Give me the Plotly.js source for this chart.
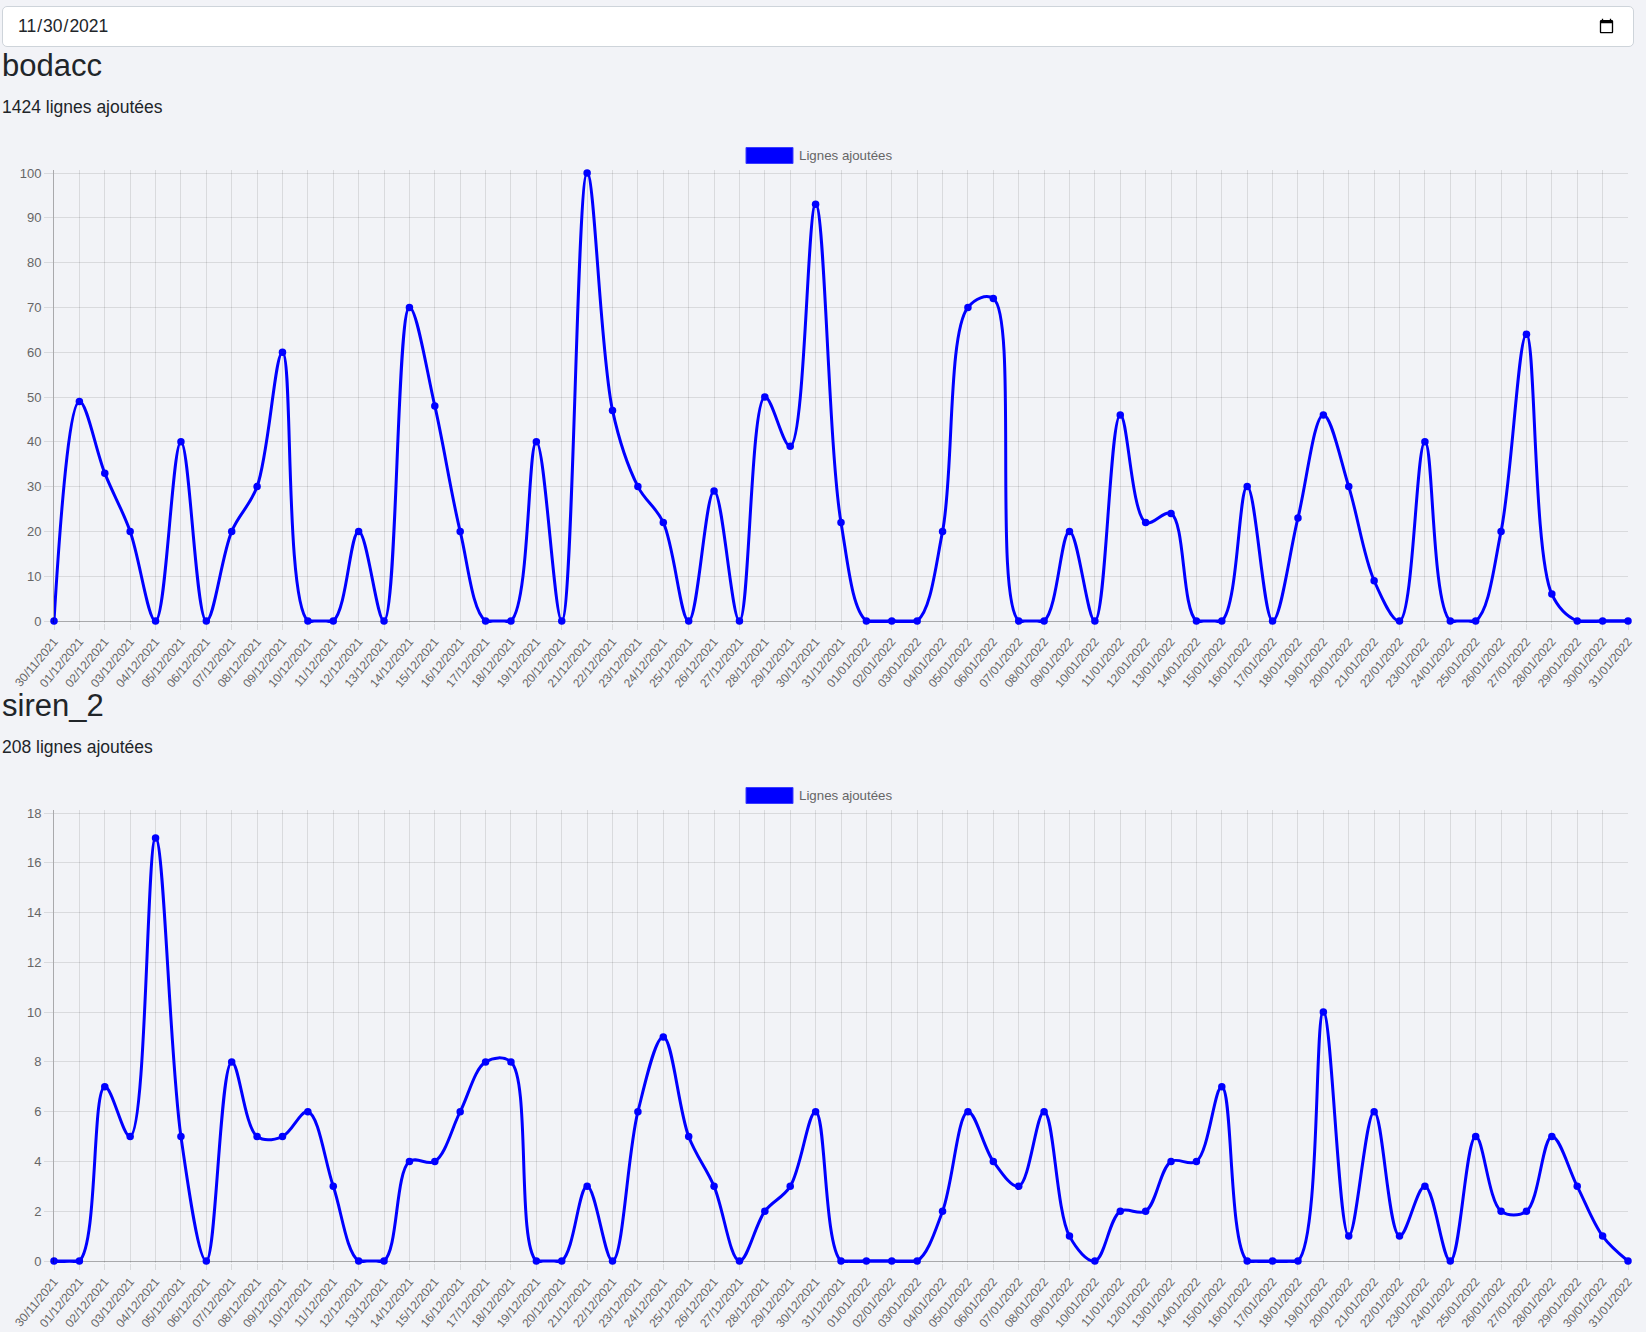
<!DOCTYPE html>
<html>
<head>
<meta charset="utf-8">
<script src="https://cdn.plot.ly/plotly-3.0.1.min.js"></script>
<style>
  html, body { margin:0; padding:0; background:rgb(242,243,247); overflow:hidden;
    font-family:"Liberation Sans", Arial, sans-serif; color:#212529; }
  .date { position:absolute; left:2px; top:6px; width:1632px; height:41px; box-sizing:border-box;
    border:1px solid #ced4da; border-radius:5px; background:#fff; padding:0 16px 0 14px;
    font-family:"Liberation Sans", Arial, sans-serif; font-size:17.5px; color:#212529; }
  .h { position:absolute; left:2px; font-size:31px; line-height:1; margin:0; font-weight:normal; white-space:nowrap; }
  .p { position:absolute; left:2px; font-size:17.5px; line-height:1; margin:0; white-space:nowrap; }
  .chart { position:absolute; left:0; width:1646px; }
</style>
</head>
<body>
<input class="date" type="date" value="2021-11-30">
<div class="h" id="t1" style="top:50px">bodacc</div>
<div class="p" id="s1" style="top:98.5px"></div>
<div class="chart" id="c1" style="top:130px;height:570px"></div>
<div class="h" id="t2" style="top:690px">siren_2</div>
<div class="p" id="s2" style="top:738.5px"></div>
<div class="chart" id="c2" style="top:770px;height:562px"></div>
<script>
const dates = [
  "30/11/2021","01/12/2021","02/12/2021","03/12/2021","04/12/2021","05/12/2021","06/12/2021","07/12/2021",
  "08/12/2021","09/12/2021","10/12/2021","11/12/2021","12/12/2021","13/12/2021","14/12/2021","15/12/2021",
  "16/12/2021","17/12/2021","18/12/2021","19/12/2021","20/12/2021","21/12/2021","22/12/2021","23/12/2021",
  "24/12/2021","25/12/2021","26/12/2021","27/12/2021","28/12/2021","29/12/2021","30/12/2021","31/12/2021",
  "01/01/2022","02/01/2022","03/01/2022","04/01/2022","05/01/2022","06/01/2022","07/01/2022","08/01/2022",
  "09/01/2022","10/01/2022","11/01/2022","12/01/2022","13/01/2022","14/01/2022","15/01/2022","16/01/2022",
  "17/01/2022","18/01/2022","19/01/2022","20/01/2022","21/01/2022","22/01/2022","23/01/2022","24/01/2022",
  "25/01/2022","26/01/2022","27/01/2022","28/01/2022","29/01/2022","30/01/2022","31/01/2022"
];
const bodaccValues = [
  0,49,33,20,0,40,0,20,30,60,0,0,20,0,70,48,20,0,0,40,0,100,47,30,22,0,29,0,50,39,93,22,
  0,0,0,20,70,72,0,0,20,0,46,22,24,0,0,30,0,23,46,30,9,0,40,0,0,20,64,6,0,0,0
];
const siren2Values = [
  0,0,7,5,17,5,0,8,5,5,6,3,0,0,4,4,6,8,8,0,0,3,0,6,9,5,3,0,2,3,6,0,
  0,0,0,2,6,4,3,6,1,0,2,2,4,4,7,0,0,0,10,1,6,1,3,0,5,2,2,5,3,1,0
];
const seriesName = "Lignes ajoutées";
const sections = [
  {title:"bodacc", values:bodaccValues, yMax:100, dTick:10, div:"c1", sub:"s1"},
  {title:"siren_2", values:siren2Values, yMax:18, dTick:2, div:"c2", sub:"s2"}
];

// plot geometry (pixels): value area 448px tall, small padding so the line is clipped like Chart.js
const ML = 54, MR = 18, PADT = 3, PADB = 2, VH = 448;
const MT = 43 - PADT, PH = VH + PADT + PADB;
const PW = 1646 - ML - MR;
function px2paperX(px){ return (px - ML) / PW; }
function px2paperY(py){ return 1 + (MT - py) / PH; }

sections.forEach(s => {
  const total = s.values.reduce((a,b)=>a+b,0);
  document.getElementById(s.sub).textContent = total + " lignes ajoutées";
  const h = document.getElementById(s.div).offsetHeight;
  const main = {
    type:"scatter", mode:"lines+markers", x:dates, y:s.values, name:seriesName,
    line:{color:"#0000ff", width:3, shape:"spline", smoothing:1},
    marker:{color:"#0000ff", size:7.5}, cliponaxis:false, showlegend:false, hoverinfo:"x+y"
  };
  // straight segments where consecutive values sit on the baseline (Chart.js caps curves at the chart area)
  const baseRuns = {
    type:"scatter", mode:"lines", x:dates, y:s.values.map(v => v === 0 ? v : null),
    connectgaps:false, line:{color:"#0000ff", width:3, shape:"linear"},
    showlegend:false, hoverinfo:"skip"
  };
  const yTickFont = {family:"Liberation Sans, Arial, sans-serif", size:13, color:"#666"};
  const xTickFont = {family:"Liberation Sans, Arial, sans-serif", size:12, color:"#666"};
  const layout = {
    width:1646, height:h,
    margin:{l:ML, r:MR, t:MT, b:h - MT - PH, pad:0},
    paper_bgcolor:"rgba(0,0,0,0)", plot_bgcolor:"rgba(0,0,0,0)",
    showlegend:false,
    xaxis:{type:"category", range:[0, dates.length-1], automargin:false,
      showgrid:true, gridcolor:"rgba(0,0,0,0.1)", gridwidth:1,
      showline:false,
      ticks:"outside", ticklen:6, tickcolor:"rgba(0,0,0,0.1)", tickwidth:1,
      tickangle:-50, tickfont:xTickFont, zeroline:false, fixedrange:true},
    yaxis:{range:[-s.yMax * PADB / VH, s.yMax + s.yMax * PADT / VH], dtick:s.dTick, tick0:0, automargin:false,
      showgrid:true, gridcolor:"rgba(0,0,0,0.1)", gridwidth:1,
      showline:true, linecolor:"rgba(0,0,0,0.3)", linewidth:1,
      ticks:"outside", ticklen:9, tickcolor:"rgba(0,0,0,0.1)", tickwidth:1,
      tickfont:yTickFont, zeroline:true, zerolinecolor:"rgba(0,0,0,0.3)", zerolinewidth:1,
      fixedrange:true},
    shapes:[
      {type:"rect", xref:"paper", yref:"paper",
       x0:px2paperX(746), x1:px2paperX(793), y0:px2paperY(33.5), y1:px2paperY(17.5),
       fillcolor:"#0000ff", line:{color:"rgba(60,60,255,1)", width:1}}
    ],
    annotations:[
      {xref:"paper", yref:"paper", x:px2paperX(797), y:px2paperY(25.5), xanchor:"left", yanchor:"middle",
       text:seriesName, showarrow:false,
       font:{family:"Liberation Sans, Arial, sans-serif", size:13.3, color:"#666"}}
    ]
  };
  Plotly.newPlot(s.div, [baseRuns, main], layout, {displayModeBar:false, staticPlot:true});
});
</script>
</body>
</html>
